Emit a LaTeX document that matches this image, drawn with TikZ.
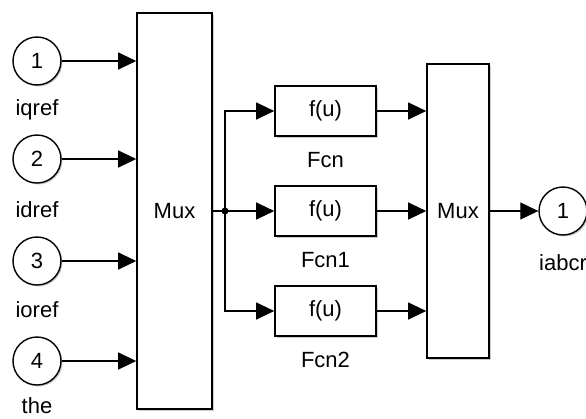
\documentclass[tikz,border=0pt]{standalone}
\usepackage{fontspec}
\setmainfont{Liberation Sans}
\usetikzlibrary{arrows.meta,shadows}
\tikzset{
  shd/.style={drop shadow={shadow xshift=1.5pt,shadow yshift=-1.5pt,fill=black!40,opacity=.5}},
  port/.style={circle,draw,line width=1.4pt,fill=white,minimum size=48,inner sep=0pt,shd},
  blk/.style={rectangle,draw,line width=1.6pt,fill=white,inner sep=0pt,shd},
  lbl/.style={inner sep=0pt}
}
\begin{document}
\begin{tikzpicture}[x=1pt,y=-1pt,font=\fontsize{22}{26}\selectfont,
    >={Triangle[length=18pt,width=17pt]}]
      \useasboundingbox (0,0) rectangle (586,418);
      \clip (0,0) rectangle (586,418);
      \draw
        (37,61) node[port] (in1){1}
        (37,159) node[port] (in2){2}
        (37,261) node[port] (in3){3}
        (37,361) node[port] (in4){4}
        (37,110) node[lbl] (lin1){iqref}
        (37,210) node[lbl] (lin2){idref}
        (37,310) node[lbl] (lin3){ioref}
        (37,406) node[lbl] (lin4){the}
        (174.5,211) node[blk,minimum width=75,minimum height=396] (mux1){Mux}
        (325.5,111) node[blk,minimum width=101,minimum height=50] (fcn0){f(u)}
        (325.5,211) node[blk,minimum width=101,minimum height=50] (fcn1){f(u)}
        (325.5,311) node[blk,minimum width=101,minimum height=50] (fcn2){f(u)}
        (325.5,160) node[lbl] (lfcn0){Fcn}
        (325.5,260) node[lbl] (lfcn1){Fcn1}
        (325.5,360) node[lbl] (lfcn2){Fcn2}
        (458,211) node[blk,minimum width=62,minimum height=294] (mux2){Mux}
        (563,211) node[port] (out1){1}
        (563,263) node[lbl] (lout1){iabcr};
      \coordinate (br) at (225,211);
      \begin{scope}[->,line width=1.1pt]
        \draw (in1) -- (in1 -| mux1.west);
        \draw (in2) -- (in2 -| mux1.west);
        \draw (in3) -- (in3 -| mux1.west);
        \draw (in4) -- (in4 -| mux1.west);
        \draw[-] (mux1.east) -- (br);
        \draw (br) |- (fcn0);
        \draw (br) -- (fcn1);
        \draw (br) |- (fcn2);
        \draw (fcn0) -- (fcn0 -| mux2.west);
        \draw (fcn1) -- (fcn1 -| mux2.west);
        \draw (fcn2) -- (fcn2 -| mux2.west);
        \draw (mux2) -- (out1);
      \end{scope}
      \fill (br) circle (3.5);
    \end{tikzpicture}
\end{document}
